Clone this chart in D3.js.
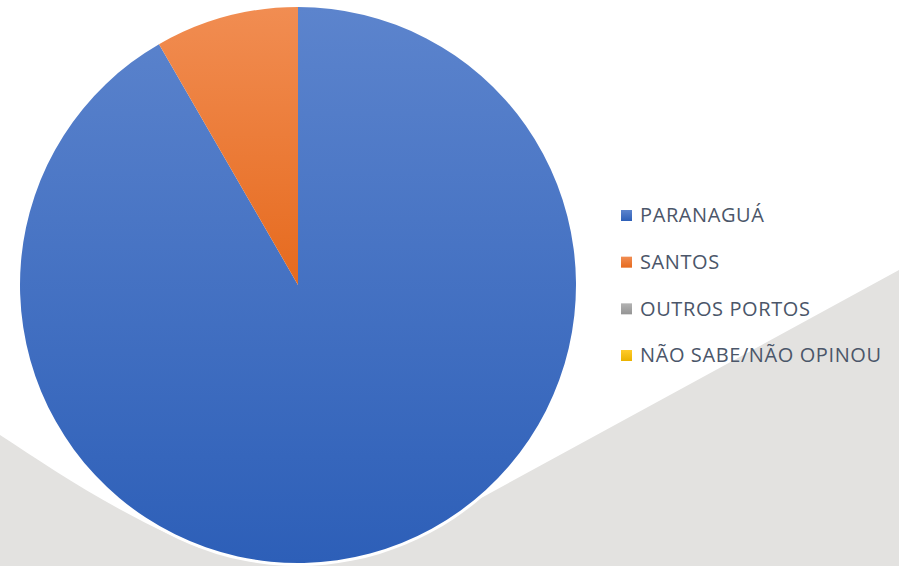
<!DOCTYPE html>
<html>
<head>
<meta charset="utf-8">
<script src="https://cdn.jsdelivr.net/npm/d3@7"></script>
<style>
  html, body { margin: 0; padding: 0; background: #fff; }
  .legend-label { font-family: 'Open Sans', 'Liberation Sans', sans-serif; fill: #4b5669; }
</style>
</head>
<body>
<div id="chart"></div>
<script>
(function() {
  'use strict';

  // data
  var categories = ['PARANAGUÁ', 'SANTOS', 'OUTROS PORTOS', 'NÃO SABE/NÃO OPINOU'];
  var values = [11, 1, 0, 0];
  var colorsTop = ['#5c84cd', '#f18d52', '#b3b3b3', '#ffcb2a'];
  var colorsBottom = ['#2d5fb8', '#e66a1e', '#949494', '#eab200'];

  var svgWidth = 899,
    svgHeight = 566,
    cx = 298,
    cy = 285,
    radius = 278;

  var svg = d3.select('#chart')
    .append('svg')
    .attr('width', svgWidth)
    .attr('height', svgHeight);

  var defs = svg.append('defs');

  categories.forEach(function(c, i) {
    var g = defs.append('linearGradient')
      .attr('id', 'grad' + i)
      .attr('x1', 0).attr('y1', 0)
      .attr('x2', 0).attr('y2', 1);
    g.append('stop').attr('offset', '0%').attr('stop-color', colorsTop[i]);
    g.append('stop').attr('offset', '100%').attr('stop-color', colorsBottom[i]);
  });

  //gray background swoosh
  svg.append('path')
    .attr('d', 'M0,435 C60,474 130,524 250,568 L0,566 Z')
    .attr('fill', '#e3e2e0');
  svg.append('path')
    .attr('d', 'M899,270 L899,566 L340,566 L483,497 Z')
    .attr('fill', '#e3e2e0');
  svg.append('rect')
    .attr('x', 200).attr('y', 530)
    .attr('width', 200).attr('height', 36)
    .attr('fill', '#e3e2e0');

  var pie = d3.pie().sort(null).value(function(d) { return d; });
  var arc = d3.arc().innerRadius(0).outerRadius(radius);

  var pieG = svg.append('g')
    .attr('transform', 'translate(' + cx + ',' + cy + ')');

  // white glow round the pie
  pieG.append('circle')
    .attr('r', radius + 3)
    .attr('fill', '#fff');

  pieG.selectAll('path.slice')
    .data(pie(values).filter(function(d) { return d.value > 0; }))
    .enter().append('path')
    .attr('class', 'slice')
    .attr('d', arc)
    .attr('fill', function(d) { return 'url(#grad' + d.index + ')'; });

  // legend
  var legendY = d3.scalePoint()
    .domain(categories)
    .range([215, 355]);

  var legend = svg.append('g');
  var items = legend.selectAll('g')
    .data(categories)
    .enter().append('g')
    .attr('transform', function(d) { return 'translate(621,' + legendY(d) + ')'; });

  items.append('rect')
    .attr('x', 0)
    .attr('y', -5)
    .attr('width', 11)
    .attr('height', 11)
    .attr('fill', function(d, i) { return 'url(#grad' + i + ')'; });

  items.append('text')
    .attr('class', 'legend-label')
    .attr('x', 19)
    .attr('y', 0)
    .attr('dy', '0.36em')
    .style('font-size', '20px')
    .style('letter-spacing', '0.6px')
    .text(function(d) { return d; });
})();
</script>
</body>
</html>
